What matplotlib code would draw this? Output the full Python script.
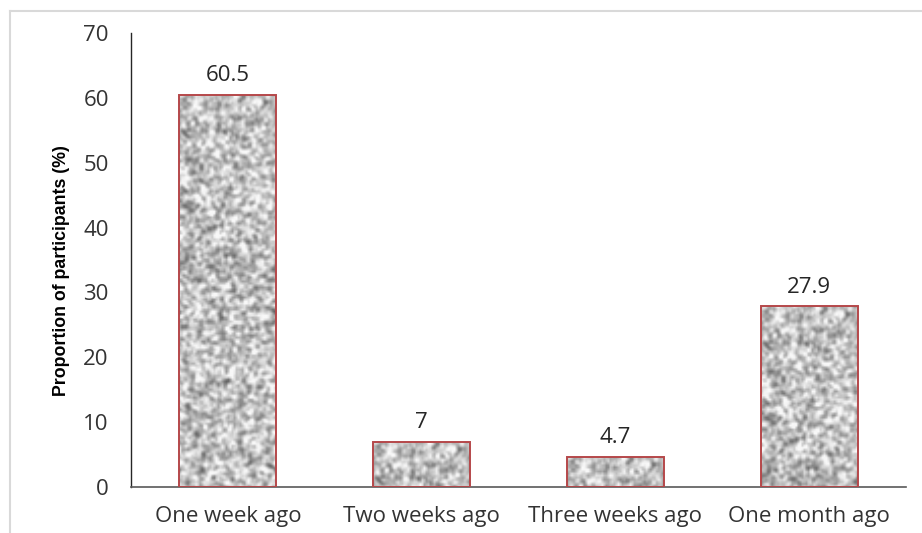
import numpy as np
import matplotlib
matplotlib.use("Agg")
import matplotlib.pyplot as plt
from matplotlib.lines import Line2D

categories = ["One week ago", "Two weeks ago", "Three weeks ago", "One month ago"]
values = [60.5, 7, 4.7, 27.9]
value_labels = ["60.5", "7", "4.7", "27.9"]
yticks = [0, 10, 20, 30, 40, 50, 60, 70]

plt.rcParams['font.family'] = ['Open Sans', 'DejaVu Sans']

fig = plt.figure(figsize=(9.22, 5.33), dpi=100)
ax = fig.add_axes([131/922, 1-487/533, (906-131)/922, (487-33)/533])

x = np.arange(len(categories))
bars = ax.bar(x, values, width=0.5, facecolor='none', edgecolor='#b5484a', linewidth=1.4, zorder=3)

# granite-like texture (decorative only, not data)
rng = np.random.default_rng(7)
NR, NC = 240, 48
noise = rng.random((NR, NC))
pad = np.pad(noise, 1, mode='wrap')
w3 = np.array([[1, 2, 1], [2, 4, 2], [1, 2, 1]]) / 16.0
sm = sum(pad[i:i+NR, j:j+NC] * w3[i, j] for i in range(3) for j in range(3))
sm = (sm - sm.mean()) / sm.std()
tex = np.clip(0.76 + 0.12 * sm, 0.25, 0.97)
px_per_unit = (487 - 33) / 70.0
for b in bars:
    x0, y0 = b.get_x(), b.get_y()
    w, h = b.get_width(), b.get_height()
    rows = max(3, int(round(h * px_per_unit / 2.0)))
    im = ax.imshow(tex[:rows, :], cmap='gray', vmin=0, vmax=1, extent=[x0, x0 + w, y0, y0 + h],
                   aspect='auto', interpolation='bilinear', zorder=2)
    im.set_clip_path(b)

for xi, v, lab in zip(x, values, value_labels):
    ax.annotate(lab, (xi, v), xytext=(0, 6), textcoords='offset points', ha='center', va='bottom',
                fontsize=16, color='#262626')

ax.set_xlim(-0.5, 3.5)
ax.set_ylim(0, 70)
ax.set_yticks(yticks)
ax.set_xticks(x)
ax.set_xticklabels(categories)
ax.tick_params(axis='both', length=0, labelsize=16, labelcolor='#333333')
ax.tick_params(axis='y', pad=16)
ax.tick_params(axis='x', pad=14)
for s in ['top', 'right']:
    ax.spines[s].set_visible(False)
ax.spines['left'].set_color('#262626')
ax.spines['bottom'].set_color('#595959')
ax.spines['left'].set_linewidth(1.0)
ax.spines['bottom'].set_linewidth(1.2)
ax.set_ylabel("Proportion of participants (%)", fontsize=12.8, fontweight='bold',
              family=['Liberation Sans', 'DejaVu Sans'])
ax.yaxis.set_label_coords((61 - 131) / 775, (487 - 271) / 454)
ax.yaxis.label.set_va('center')

# partial light frame around the figure
fig.add_artist(Line2D([10/922, 1], [1-11/533, 1-11/533], transform=fig.transFigure, color='#d9d9d9', lw=1.5))
fig.add_artist(Line2D([10/922, 10/922], [0, 1-11/533], transform=fig.transFigure, color='#d9d9d9', lw=1.5))

fig.savefig("out.png", dpi=100)
